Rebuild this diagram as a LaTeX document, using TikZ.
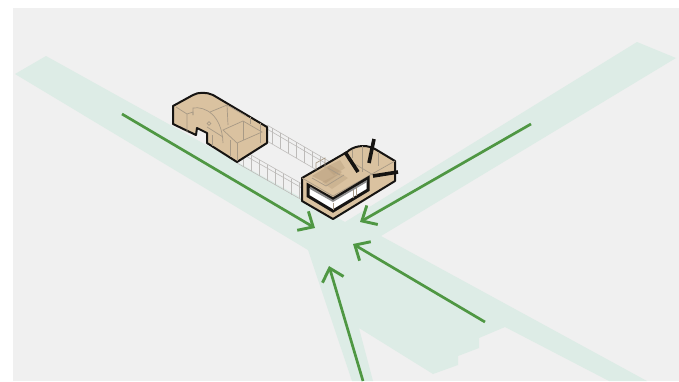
\documentclass[tikz,border=0pt]{standalone}
\usepackage{xcolor}
\usetikzlibrary{arrows.meta}
\definecolor{groundgray}{HTML}{F0F0F0}
\definecolor{roadmint}{HTML}{DDECE6}
\definecolor{arrowgreen}{HTML}{4F9743}
\definecolor{tan}{HTML}{DAC2A0}
\definecolor{tandark}{HTML}{B39A7A}
\definecolor{wallgray}{HTML}{A89A86}
\definecolor{railgray}{HTML}{BDBBB9}
\definecolor{inkblack}{HTML}{161412}

\begin{document}
\begin{tikzpicture}[x=1pt, y=-1pt,
    flow/.style={draw=arrowgreen, line width=2.7pt, -{Straight Barb[length=12pt, width=22pt, line width=2.9pt]}},
    outline/.style={draw=inkblack, line width=2pt, fill=tan, line join=round},
    thin wall/.style={draw=wallgray, line width=0.7pt},
    rail/.style={draw=railgray, line width=0.6pt},
    spoke/.style={draw=inkblack, line width=3.6pt}]
    \useasboundingbox (0,0) rectangle (679,381);

    % Ground
    \fill[groundgray] (13,8) rectangle (679,381);

    % Roads
    \fill[roadmint] (15,74) -- (46,56) -- (345,222) -- (637,42) -- (676,58) -- (381,236)
        -- (647,381) -- (609,381) -- (505,327) -- (479,338) -- (479,348) -- (458,356)
        -- (458,365) -- (433,374) -- (359,328) -- (373,381) -- (352,381) -- (308,250) -- cycle;

    % Walkways between the two blocks
    \foreach \a/\b/\c/\d in {267/125/332/163, 267/129/332/167, 267/141/327/176, 237/147/302/184, 237/151/302/188, 237/163/302/200} {
        \draw[rail] (\a,\b) -- (\c,\d);
    }
    \foreach \i in {0,...,7} {
        \draw[rail] (272+8*\i,128+4.7*\i) -- (272+8*\i,144+4.7*\i);
        \draw[rail] (243+8*\i,150.5+4.7*\i) -- (243+8*\i,166.5+4.7*\i);
    }

    % Left block
    \draw[outline] (173,106) -- (193,95) .. controls (198,92) and (207,92) .. (213,95)
        -- (267,127) -- (267,143) -- (237,162) -- (207,143) -- (207,133) -- (197,128)
        -- (196,135) -- (173,124) -- cycle;
    \draw[thin wall] (176,107) -- (187,114) -- (187,132);
    \draw[thin wall] (187,114) -- (193,112) -- (193,115);
    \draw[thin wall] (193,115) -- (193,108) .. controls (205,106) and (222,115) .. (223,143);
    \draw[thin wall] (210,112) -- (227,105) -- (246,116);
    \draw[thin wall] (227,105) -- (228,125);
    \draw[thin wall] (223,130) -- (243,121) -- (262,132) -- (237,143) -- cycle;
    \draw[thin wall] (243,121) -- (243,140);
    \draw[thin wall] (237,143) -- (237,161);
    \draw[thin wall] (250,117) -- (250,124);
    \draw[thin wall] (260,123) -- (260,143);
    \draw[thin wall] (207,127) -- (223,137);
    \draw[thin wall] (212,135) -- (212,146);
    \draw[thin wall] (230,140) -- (230,157);
    \draw[thin wall] (209,123.5) circle (1.8);

    % Right block
    \draw[outline] (302,178) -- (347,152) .. controls (352,147) and (364,143) .. (375,149)
        -- (395,161) -- (395,181) -- (333,219) -- (302,201) -- cycle;
    \draw[thin wall] (302,178) -- (333,196) -- (395,161);
    \draw[thin wall] (352,150) -- (352,158);
    \draw[thin wall] (362,146) -- (362,172);
    \draw[thin wall] (348,160) -- (375,176);
    \draw[thin wall] (378,152) -- (378,166);

    % Patchy roof texture
    \fill[tandark, opacity=0.5] (312,176) -- (330,165) -- (342,172) -- (326,183) -- cycle;
    \fill[tandark, opacity=0.4] (326,167) -- (340,160) -- (345,168) -- (334,175) -- cycle;
    \fill[tandark, opacity=0.35] (322,182) -- (340,173) -- (348,178) -- (332,189) -- cycle;
    \draw[thin wall] (316,170) -- (316,163) -- (325,158) -- (325,168);
    \draw[thin wall] (312,178) -- (326,186) -- (344,175);
    \draw[thin wall] (328,168) -- (340,175);

    % Long window
    \draw[draw=inkblack, line width=3pt, fill=white, line join=miter] (308,185) -- (333,199)
        -- (368,178) -- (368,190) -- (333,211) -- (308,196) -- cycle;
    \fill[black!45] (310,186.5) -- (333,200) -- (367,180) -- (367,182) -- (333,202) -- (310,189) -- cycle;
    \draw[thin wall] (333,203) -- (333,210);
    \draw[thin wall] (353,190) -- (353,198);
    \draw[thin wall] (356,188) -- (356,196);

    % Spokes
    \coordinate (spokeA) at (345,152);
    \coordinate (spokeAend) at (358,172);
    \coordinate (spokeB) at (374,139);
    \coordinate (spokeBend) at (369,163);
    \coordinate (spokeC) at (373,176);
    \coordinate (spokeCend) at (398,172);
    \foreach \s/\e in {spokeA/spokeAend, spokeB/spokeBend, spokeC/spokeCend} {
        \draw[spoke] (\s) -- (\e);
    }

    % Arrows into the junction
    \coordinate (west) at (122,114);
    \coordinate (westTip) at (315,228);
    \coordinate (east) at (531,124);
    \coordinate (eastTip) at (360,222);
    \coordinate (southeast) at (485,322);
    \coordinate (southeastTip) at (353,244);
    \coordinate (south) at (363,381);
    \coordinate (southTip) at (329,266);
    \foreach \s/\e in {west/westTip, east/eastTip, southeast/southeastTip, south/southTip} {
        \draw[flow] (\s) -- (\e);
    }
\end{tikzpicture}
\end{document}
